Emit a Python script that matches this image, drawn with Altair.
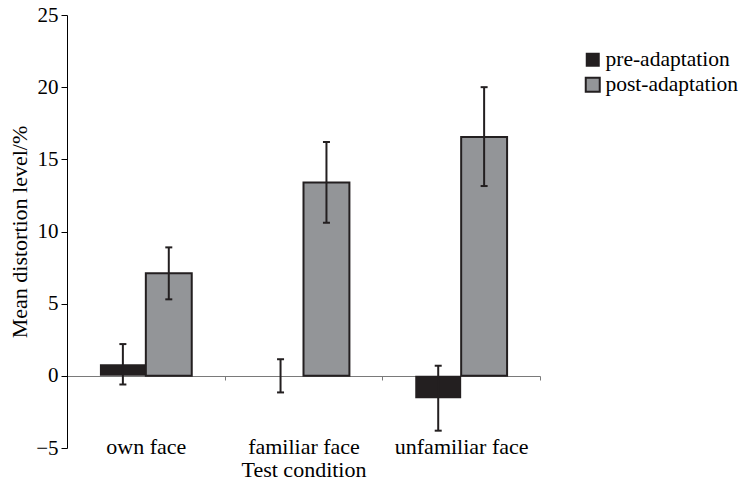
import altair as alt
import pandas as pd

categories = ["own face", "familiar face", "unfamiliar face"]
conditions = ["pre-adaptation", "post-adaptation"]
pre_mean = [0.8, 0.0, -1.55]
post_mean = [7.1, 13.4, 16.55]
pre_low = [-0.6, -1.15, -3.8]
pre_high = [2.2, 1.15, 0.7]
post_low = [5.3, 10.6, 13.15]
post_high = [8.9, 16.2, 20.0]
y_ticks = [-5, 0, 5, 10, 15, 20, 25]

rows = []
for i, c in enumerate(categories):
    rows.append(dict(test=c, cond=conditions[0], mean=pre_mean[i], low=pre_low[i], high=pre_high[i]))
    rows.append(dict(test=c, cond=conditions[1], mean=post_mean[i], low=post_low[i], high=post_high[i]))
df = pd.DataFrame(rows)

FONT = "Liberation Serif"
FS = 22
TFS = 21
LFS = 21.5
DARK = "#231f20"
GREY = "#939598"
ZERO = "#7a7a7a"

x_axis = alt.Axis(orient="bottom", offset=-72, domainColor=ZERO, domainWidth=1.2,
                  ticks=True, tickColor=ZERO, tickSize=4, tickBand="extent",
                  labelAngle=0, labelFont=FONT, labelFontSize=FS, labelColor="black",
                  labelPadding=56, labelBaseline="top",
                  titleFont=FONT, titleFontSize=FS, titleFontWeight="normal",
                  titlePadding=2, titleColor="black")
y_axis = alt.Axis(values=y_ticks, grid=False, domainColor="black", tickColor="black",
                  tickSize=6, labelPadding=3, labelFont=FONT, labelFontSize=TFS,
                  labelColor="black", titleFont=FONT, titleFontSize=FS,
                  titleFontWeight="normal", titlePadding=4, titleColor="black")
y_scale = alt.Scale(domain=[-5, 25], nice=False, zero=False)

def X():
    return alt.X("test:N", sort=categories, title="Test condition",
                 scale=alt.Scale(paddingInner=0, paddingOuter=0), axis=x_axis)

def XO():
    return alt.XOffset("cond:N", sort=conditions,
                       scale=alt.Scale(domain=conditions, paddingInner=0, paddingOuter=0.717))

def Y(field):
    return alt.Y(f"{field}:Q", scale=y_scale, title="Mean distortion level/%", axis=y_axis)

base = alt.Chart(df)

bars = base.mark_bar(stroke=DARK).encode(
    x=X(), xOffset=XO(), y=Y("mean"), y2=alt.datum(0),
    color=alt.Color("cond:N", sort=conditions,
                    scale=alt.Scale(domain=conditions, range=[DARK, GREY]),
                    legend=alt.Legend(title=None, orient="none", legendX=515, legendY=34,
                                      symbolType="square", symbolSize=196,
                                      symbolStrokeColor=DARK, symbolStrokeWidth=1.5,
                                      symbolOpacity=1,
                                      labelFont=FONT, labelFontSize=LFS, labelColor="black",
                                      labelOffset=2, rowPadding=2, padding=0)),
    strokeWidth=alt.StrokeWidth("cond:N", scale=alt.Scale(domain=conditions, range=[0, 2]),
                                legend=None),
)

err = base.mark_rule(color=DARK, strokeWidth=2).encode(
    x=X(), xOffset=XO(), y=Y("low"), y2="high:Q")
cap_lo = base.mark_tick(color=DARK, thickness=2, size=7, orient="horizontal", opacity=1).encode(
    x=X(), xOffset=XO(), y=Y("low"))
cap_hi = base.mark_tick(color=DARK, thickness=2, size=7, orient="horizontal", opacity=1).encode(
    x=X(), xOffset=XO(), y=Y("high"))

chart = alt.layer(bars, err, cap_lo, cap_hi).properties(
    width=473, height=433, autosize="none",
    padding={"left": 59, "top": 7, "right": 198, "bottom": 35},
    background="white",
).configure_view(stroke=None)

chart.save("out.html", embed_options={"renderer": "svg", "actions": False})
